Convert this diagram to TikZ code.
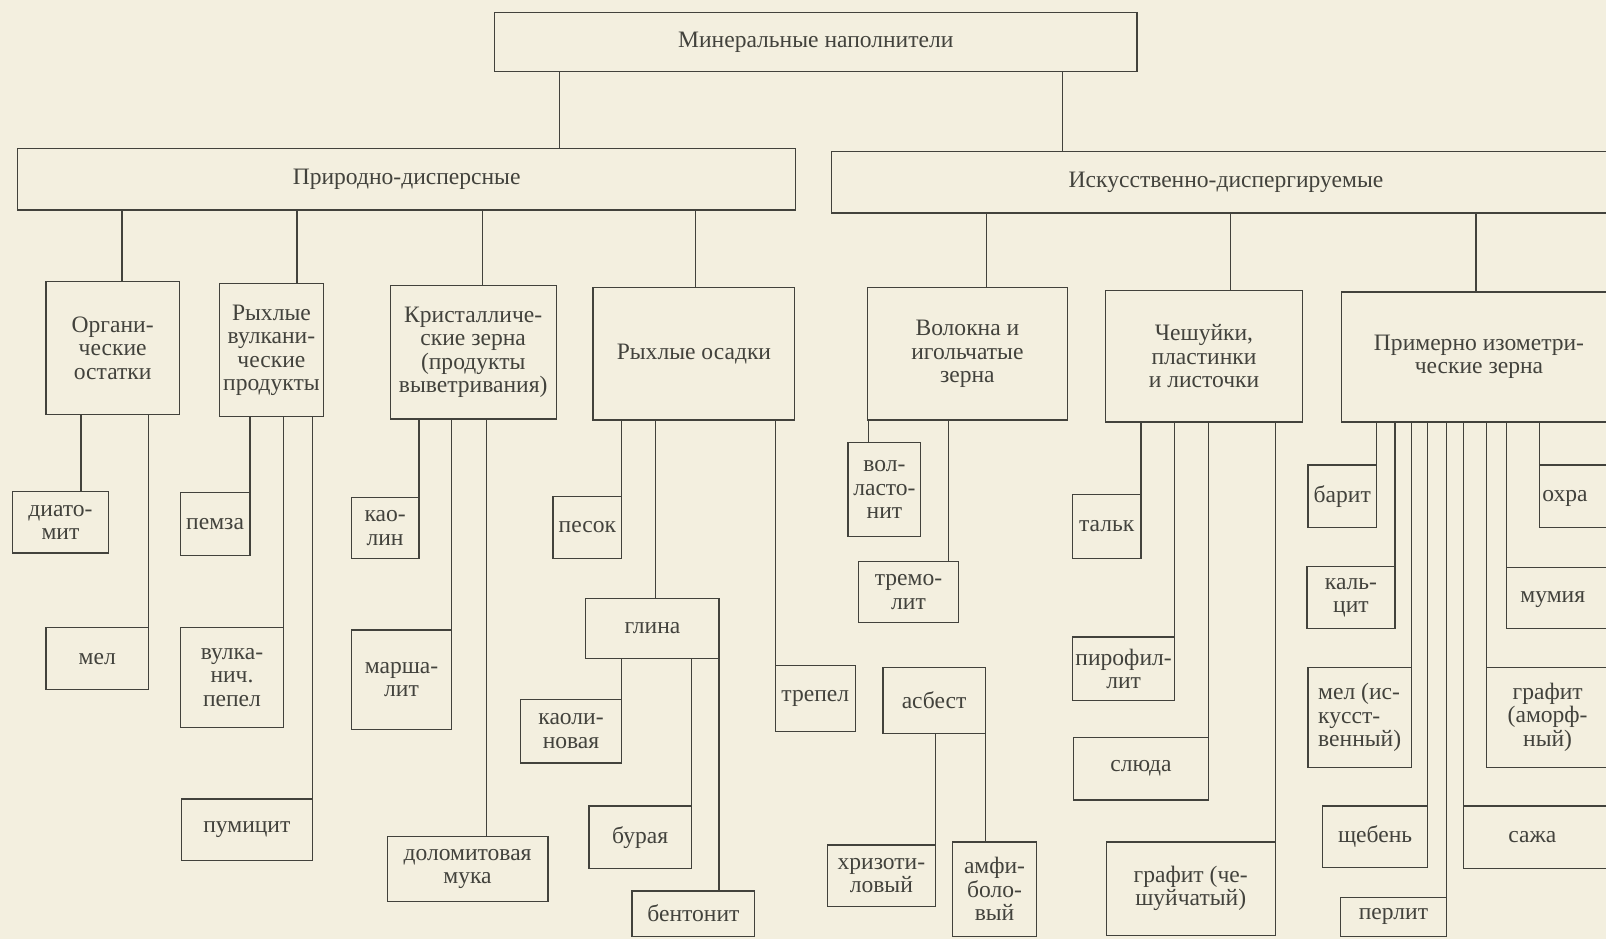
\documentclass[tikz,border=0pt]{standalone}
\usepackage{fontspec}
\setmainfont{Liberation Serif}
\definecolor{paper}{RGB}{243,239,223}
\definecolor{ink}{RGB}{66,66,60}
\tikzset{
  ln/.style={draw=ink, line width=1.2pt},
  bx/.style={draw=ink, line width=1.2pt, inner sep=0pt, outer sep=0pt, align=center,
     text=ink, font=\fontsize{23}{23}\selectfont},
  tx/.style={inner sep=0pt, outer sep=0pt, align=center, text=ink, font=\fontsize{23}{23}\selectfont}
}
\newcommand\bbox[7][]{\node[bx,#1, minimum width={(#5-#3)*1pt}, minimum height={(#6-#4)*1pt}] (#2) at ({(#3+#5)/2},{(#4+#6)/2}) {#7};}
\begin{document}
\begin{tikzpicture}[x=1pt,y=-1pt]
\useasboundingbox (0,0) rectangle (1568,917);
\clip (0,0) rectangle (1568,917);
\fill[paper] (0,0) rectangle (1568,917);

% level 0 and 1
\bbox{top}{483}{12}{1110}{70}{Минеральные наполнители}
\bbox{nat}{17}{145}{777}{205}{Природно-дисперсные}
\bbox{art}{812}{148}{1582}{208}{Искусственно-диспергируемые}

% level 2
\bbox{org}{45}{275}{175}{405}{Органи-\\ческие\\остатки}
\bbox{vul}{214}{277}{316}{407}{Рыхлые\\вулкани-\\ческие\\продукты}
\bbox{cry}{381}{279}{543}{409}{Кристалличе-\\ские зерна\\(продукты\\выветривания)}
\bbox{sed}{579}{281}{776}{410}{Рыхлые осадки}
\bbox{fib}{847}{281}{1042}{410}{Волокна и\\игольчатые\\зерна}
\bbox{fla}{1079}{284}{1272}{412}{Чешуйки,\\пластинки\\и листочки}
\bbox{iso}{1310}{285}{1578}{412}{Примерно изометри-\\ческие зерна}

% leaves
\bbox{diat}{12}{480}{106}{540}{диато-\\мит}
\bbox{mel}{45}{613}{145}{673}{мел}
\bbox{pemza}{176}{481}{244}{542}{пемза}
\bbox{pepel}{176}{613}{277}{710}{вулка-\\нич.\\пепел}
\bbox{pumic}{177}{780}{305}{840}{пумицит}
\bbox{kaolin}{343}{486}{409}{545}{као-\\лин}
\bbox{marsh}{343}{615}{441}{712}{марша-\\лит}
\bbox{dolom}{378}{817}{535}{880}{доломитовая\\мука}
\bbox{pesok}{540}{485}{607}{545}{песок}
\bbox{glina}{572}{584}{702}{643}{глина}
\bbox{trepel}{757}{650}{835}{714}{трепел}
\bbox{kaolnov}{508}{683}{607}{745}{каоли-\\новая}
\bbox{buraya}{575}{787}{675}{848}{бурая}
\bbox{bent}{617}{870}{737}{914}{бентонит}
\bbox{volla}{828}{432}{899}{524}{вол-\\ласто-\\нит}
\bbox{tremo}{838}{548}{936}{608}{тремо-\\лит}
\bbox{asb}{862}{652}{962}{716}{асбест}
\bbox{hriz}{808}{825}{913}{885}{хризоти-\\ловый}
\bbox{amfi}{930}{822}{1012}{914}{амфи-\\боло-\\вый}
\bbox{talk}{1047}{483}{1114}{545}{тальк}
\bbox{piro}{1047}{622}{1147}{684}{пирофил-\\лит}
\bbox{sluda}{1048}{720}{1180}{781}{слюда}
\bbox{grch}{1080}{822}{1245}{913}{графит (че-\\шуйчатый)}
\bbox{barit}{1277}{454}{1344}{515}{барит}
\bbox{kalc}{1276}{553}{1362}{614}{каль-\\цит}
\bbox[align=left]{melart}{1277}{652}{1378}{749}{мел (ис-\\кусст-\\венный)}
\bbox{shch}{1291}{787}{1394}{847}{щебень}
\bbox{perlit}{1309}{876}{1412}{914}{перлит}

% boxes cut by the right edge
\coordinate (ohraNW) at (1503,454);
\coordinate (mumNW) at (1471,554);
\coordinate (grafNW) at (1451,652);
\coordinate (sajaNW) at (1429,787);
\draw[ln] (ohraNW) rectangle (1620,515);
\draw[ln] (mumNW) rectangle (1620,614);
\draw[ln] (grafNW) rectangle (1620,749);
\draw[ln] (sajaNW) rectangle (1620,848);
\node[tx] (ohra) at (1528,487) {охра};
\node[tx] (mum) at (1516,585) {мумия};
\node[tx] (graf) at (1511,700) {графит\\(аморф-\\ный)};
\node[tx] (saja) at (1496,817) {сажа};

% connectors
\draw[ln] (546,0 |- top.south) -- (546,0 |- nat.north);
\draw[ln] (1037,0 |- top.south) -- (1037,0 |- art.north);

\draw[ln] (119,0 |- nat.south) -- (119,0 |- org.north);
\draw[ln] (290,0 |- nat.south) -- (290,0 |- vul.north);
\draw[ln] (471,0 |- nat.south) -- (471,0 |- cry.north);
\draw[ln] (679,0 |- nat.south) -- (679,0 |- sed.north);
\draw[ln] (963,0 |- art.south) -- (963,0 |- fib.north);
\draw[ln] (1201,0 |- art.south) -- (1201,0 |- fla.north);
\draw[ln] (1441,0 |- art.south) -- (1441,0 |- iso.north);

\draw[ln] (79,0 |- org.south) -- (79,0 |- diat.north);
\draw[ln] (mel.east |- org.south) -- (mel.north east);
\draw[ln] (pemza.east |- vul.south) -- (pemza.north east);
\draw[ln] (pepel.east |- vul.south) -- (pepel.north east);
\draw[ln] (pumic.east |- vul.south) -- (pumic.north east);
\draw[ln] (kaolin.east |- cry.south) -- (kaolin.north east);
\draw[ln] (marsh.east |- cry.south) -- (marsh.north east);
\draw[ln] (475,0 |- cry.south) -- (475,0 |- dolom.north);
\draw[ln] (pesok.east |- sed.south) -- (pesok.north east);
\draw[ln] (640,0 |- sed.south) -- (640,0 |- glina.north);
\draw[ln] (trepel.west |- sed.south) -- (trepel.north west);
\draw[ln] (kaolnov.east |- glina.south) -- (kaolnov.north east);
\draw[ln] (buraya.east |- glina.south) -- (buraya.north east);
\draw[ln] (glina.south east) -- (glina.south east |- bent.north);

\draw[ln] (848,0 |- fib.south) -- (848,0 |- volla.north);
\draw[ln] (926,0 |- fib.south) -- (926,0 |- tremo.north);
\draw[ln] (hriz.east |- asb.south) -- (hriz.north east);
\draw[ln] (asb.south east) -- (asb.south east |- amfi.north);

\draw[ln] (talk.east |- fla.south) -- (talk.north east);
\draw[ln] (piro.east |- fla.south) -- (piro.north east);
\draw[ln] (sluda.east |- fla.south) -- (sluda.north east);
\draw[ln] (grch.east |- fla.south) -- (grch.north east);

\draw[ln] (barit.east |- iso.south) -- (barit.north east);
\draw[ln] (kalc.east |- iso.south) -- (kalc.north east);
\draw[ln] (melart.east |- iso.south) -- (melart.north east);
\draw[ln] (shch.east |- iso.south) -- (shch.north east);
\draw[ln] (perlit.east |- iso.south) -- (perlit.north east);
\draw[ln] (sajaNW |- iso.south) -- (sajaNW);
\draw[ln] (grafNW |- iso.south) -- (grafNW);
\draw[ln] (mumNW |- iso.south) -- (mumNW);
\draw[ln] (ohraNW |- iso.south) -- (ohraNW);
\end{tikzpicture}
\end{document}
